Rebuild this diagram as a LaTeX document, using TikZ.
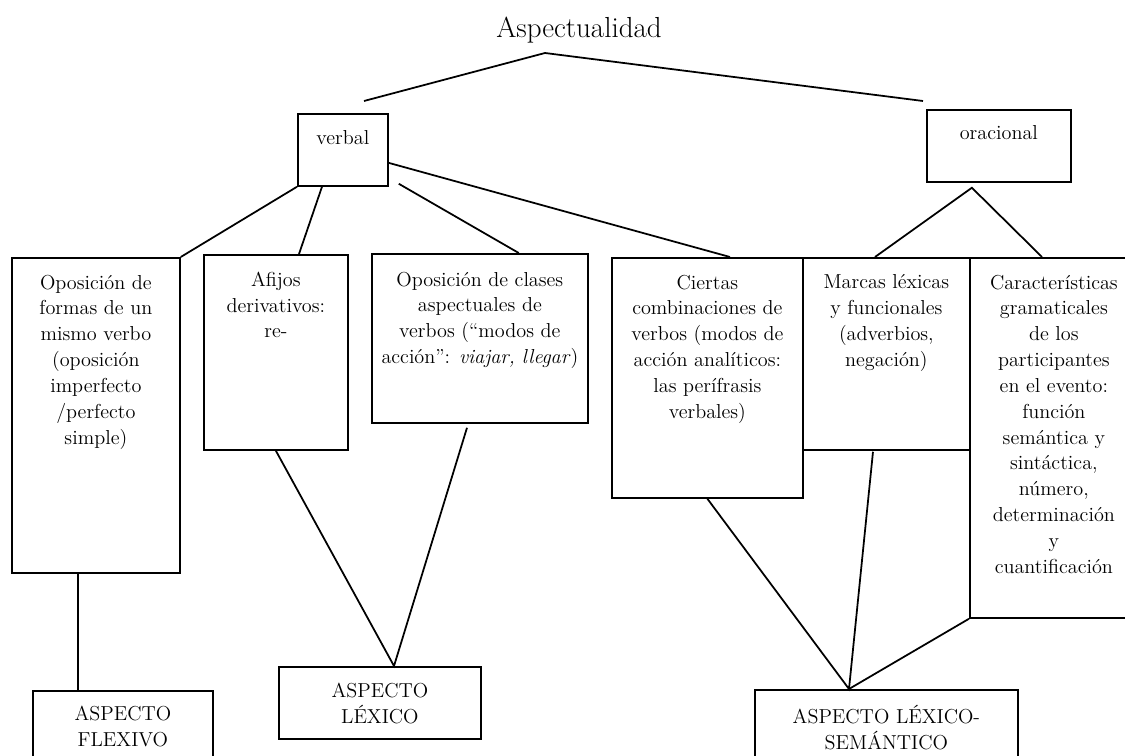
\documentclass[tikz,border=0pt]{standalone}
\usepackage{fontspec}
\usetikzlibrary{calc}

\begin{document}
\begin{tikzpicture}[x=0.2mm, y=-0.2mm, line width=1pt,
	caja/.style={draw, line width=1pt, inner sep=0pt, anchor=north west},
	texto/.style={align=center, inner sep=0pt, anchor=north,
		font=\fontsize{11.5}{14.7}\selectfont}]
	
	\useasboundingbox (0,0) rectangle (1125,756);
	
	% titulo
	\node[font=\fontsize{16.5}{19}\selectfont] (titulo) at (579,30) {Aspectualidad};
	\coordinate (cima) at (545,53);
	\coordinate (izq) at (364,101);
	\coordinate (der) at (923,101);
	
	% cajas
	\node[caja, minimum width=18mm, minimum height=14.4mm] (verbal) at (297,113) {};
	\node[caja, minimum width=28.8mm, minimum height=14.4mm] (oracional) at (926,109) {};
	\node[caja, minimum width=33.6mm, minimum height=63mm] (oposicion) at (11,257) {};
	\node[caja, minimum width=28.8mm, minimum height=39mm] (afijos) at (203,254) {};
	\node[caja, minimum width=43.2mm, minimum height=33.8mm] (clases) at (371,253) {};
	\node[caja, minimum width=38.2mm, minimum height=48mm] (ciertas) at (611,257) {};
	\node[caja, minimum width=33.4mm, minimum height=38.4mm] (marcas) at (802,257) {};
	\node[caja, minimum width=33.6mm, minimum height=72mm] (caracteristicas) at (969,257) {};
	\node[caja, minimum width=36mm, minimum height=17mm] (flexivo) at (32,690) {};
	\node[caja, minimum width=40.4mm, minimum height=14.4mm] (lexico) at (278,666) {};
	\node[caja, minimum width=52.6mm, minimum height=17mm] (semantico) at (754,689) {};
	
	% textos
	\node[texto] (verbal-t) at ([yshift=-3.4mm]verbal.north) {verbal};
	\node[texto] (oracional-t) at ([yshift=-3.2mm]oracional.north) {oracional};
	\node[texto] (oposicion-t) at ([yshift=-3.4mm]oposicion.north)
		{Oposición de\\formas de un\\mismo verbo\\(oposición\\imperfecto\\/perfecto\\simple)};
	\node[texto] (afijos-t) at ([yshift=-3.4mm]afijos.north) {Afijos\\derivativos:\\re-};
	\node[texto] (clases-t) at ([yshift=-3.6mm]clases.north)
		{Oposición de clases\\aspectuales de\\verbos (“modos de\\acción”: \textit{viajar, llegar})};
	\node[texto] (ciertas-t) at ([yshift=-3.4mm]ciertas.north)
		{Ciertas\\combinaciones de\\verbos (modos de\\acción analíticos:\\las perífrasis\\verbales)};
	\node[texto] (marcas-t) at ([yshift=-3.4mm]marcas.north)
		{Marcas léxicas\\y funcionales\\(adverbios,\\negación)};
	\node[texto] (caracteristicas-t) at ([yshift=-3.4mm]caracteristicas.north)
		{Características\\gramaticales\\de los\\participantes\\en el evento:\\función\\semántica y\\sintáctica,\\número,\\determinación\\y\\cuantificación};
	\node[texto] (flexivo-t) at ([yshift=-3mm]flexivo.north) {ASPECTO\\FLEXIVO};
	\node[texto] (lexico-t) at ([yshift=-3.2mm]lexico.north) {ASPECTO\\LÉXICO};
	\node[texto] (semantico-t) at ([yshift=-3mm]semantico.north) {ASPECTO LÉXICO-\\SEMÁNTICO};
	
	% lineas
	\draw (izq) -- (cima) -- (der);
	\draw (verbal.south west) -- (oposicion.north east);
	\draw ($(verbal.south west)+(25,0)$) -- ($(afijos.north west)+(96,0)$);
	\draw ($(verbal.south east)+(10,-3)$) -- ($(clases.north east)+(-70,0)$);
	\draw ($(verbal.east)+(0,13)$) -- ($(ciertas.north west)+(119,0)$);
	\draw ($(marcas.north west)+(73,0)$) -- ($(oracional.south)+(-27,5)$)
		-- ($(caracteristicas.north west)+(73,0)$);
	\draw ($(oposicion.south west)+(67,0)$) -- ($(flexivo.north west)+(46,0)$);
	\draw (afijos.south) -- ($(lexico.north west)+(116,0)$)
		-- ($(clases.south west)+(96,4)$);
	\draw (ciertas.south) -- ($(semantico.north west)+(95,0)$)
		-- ($(marcas.south west)+(71,1)$);
	\draw (caracteristicas.south west) -- ($(semantico.north west)+(95,0)$);
\end{tikzpicture}
\end{document}
